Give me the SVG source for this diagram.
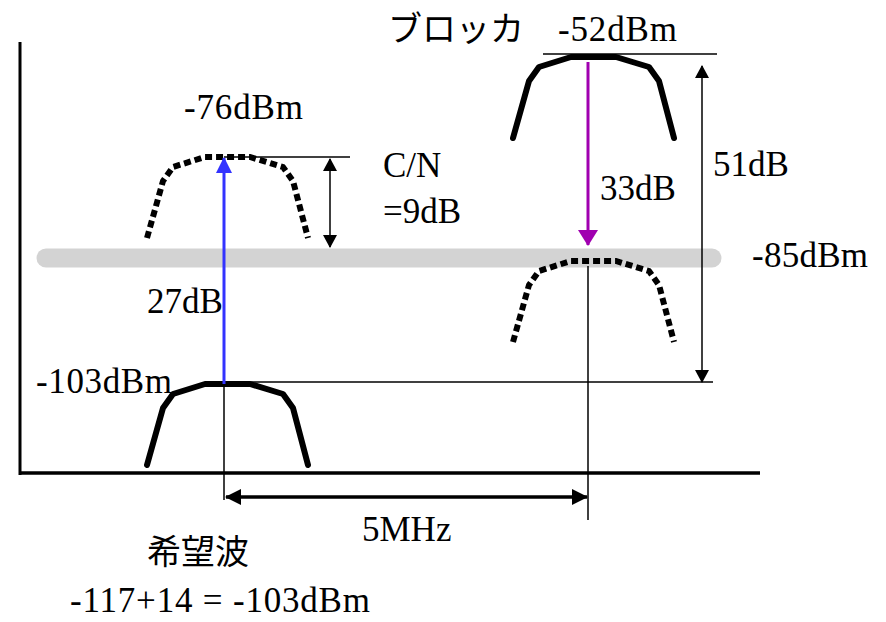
<svg xmlns="http://www.w3.org/2000/svg" width="886" height="622" viewBox="0 0 886 622">
<style>
.t{font-family:"Liberation Serif","Times New Roman",serif;font-size:35px;fill:#000}
.j{font-family:"Noto Sans CJK JP","Noto Sans",sans-serif;font-size:34px;fill:#000}
.solid{fill:none;stroke:#000;stroke-width:6;stroke-linejoin:round;stroke-linecap:round}
.dash{fill:none;stroke:#000;stroke-width:6;stroke-dasharray:7 4}
.thin{fill:none;stroke:#000;stroke-width:1.5}
</style>
<defs>
<path id="bell" d="M147,465 L163,408 L173,394 L205,384 L250,384 L283,394 L293,408 L308,465"/>
<marker id="ab" markerWidth="16" markerHeight="16" viewBox="0 0 16 16" refX="15" refY="8" orient="auto" markerUnits="userSpaceOnUse"><path d="M0,0 L16,8 L0,16 Z" fill="#3333ff"/></marker>
<marker id="am" markerWidth="20" markerHeight="20" viewBox="0 0 16 20" refX="15" refY="10" orient="auto" markerUnits="userSpaceOnUse"><path d="M0,0 L16,10 L0,20 Z" fill="#a000b0"/></marker>
<marker id="ak" markerWidth="13" markerHeight="14" viewBox="0 0 13 14" refX="12" refY="7" orient="auto-start-reverse" markerUnits="userSpaceOnUse"><path d="M0,0 L13,7 L0,14 Z" fill="#000"/></marker>
<marker id="aK" markerWidth="16" markerHeight="16" viewBox="0 0 16 16" refX="15" refY="8" orient="auto-start-reverse" markerUnits="userSpaceOnUse"><path d="M0,0 L16,8 L0,16 Z" fill="#000"/></marker>
</defs>
<g id="noise-floor"><line x1="46" y1="258" x2="712" y2="258" stroke="#d3d3d3" stroke-width="19" stroke-linecap="round"/></g>
<g id="axes">
<line x1="20" y1="42" x2="20" y2="475" stroke="#000" stroke-width="3"/>
<line x1="19" y1="473" x2="760" y2="473" stroke="#000" stroke-width="3.5"/>
</g>
<g id="desired"><use href="#bell" class="solid"/></g>
<g id="desired-up"><use href="#bell" class="dash" transform="translate(0,-227)"/></g>
<g id="blocker"><use href="#bell" class="solid" transform="translate(366,-327)"/></g>
<g id="blocker-down"><use href="#bell" class="dash" transform="translate(366,-123)"/></g>
<g id="connectors">
<line class="thin" x1="224" y1="157" x2="350" y2="157"/>
<line class="thin" x1="224" y1="382" x2="713" y2="382"/>
<line class="thin" x1="543" y1="54" x2="717" y2="54"/>
<line class="thin" x1="224" y1="384" x2="224" y2="500"/>
<line class="thin" x1="588" y1="266" x2="588" y2="520"/>
<line x1="224" y1="384" x2="224" y2="158" stroke="#3333ff" stroke-width="3" marker-end="url(#ab)"/>
<line x1="588" y1="62" x2="588" y2="245" stroke="#a000b0" stroke-width="3" marker-end="url(#am)"/>
<line class="thin" x1="330" y1="159" x2="330" y2="247" marker-start="url(#ak)" marker-end="url(#ak)"/>
<line class="thin" x1="702" y1="66" x2="702" y2="382" marker-start="url(#ak)" marker-end="url(#ak)"/>
<line x1="226" y1="497" x2="587" y2="497" stroke="#000" stroke-width="3.5" marker-start="url(#aK)" marker-end="url(#aK)"/>
</g>
<g id="labels">
<text class="j" x="388" y="41">ブロッカ</text>
<text class="t" x="558" y="41" textLength="119">-52dBm</text>
<text class="t" x="184" y="119" textLength="119">-76dBm</text>
<text class="t" x="383" y="177">C/N</text>
<text class="t" x="383" y="223">=9dB</text>
<text class="t" x="600" y="200">33dB</text>
<text class="t" x="713" y="176">51dB</text>
<text class="t" x="752" y="267" textLength="116">-85dBm</text>
<text class="t" x="147" y="313">27dB</text>
<text class="t" x="36" y="393" textLength="136">-103dBm</text>
<text class="t" x="362" y="541">5MHz</text>
<text class="j" x="147" y="564">希望波</text>
<text class="t" x="70" y="612" textLength="300">-117+14 = -103dBm</text>
</g>
</svg>
